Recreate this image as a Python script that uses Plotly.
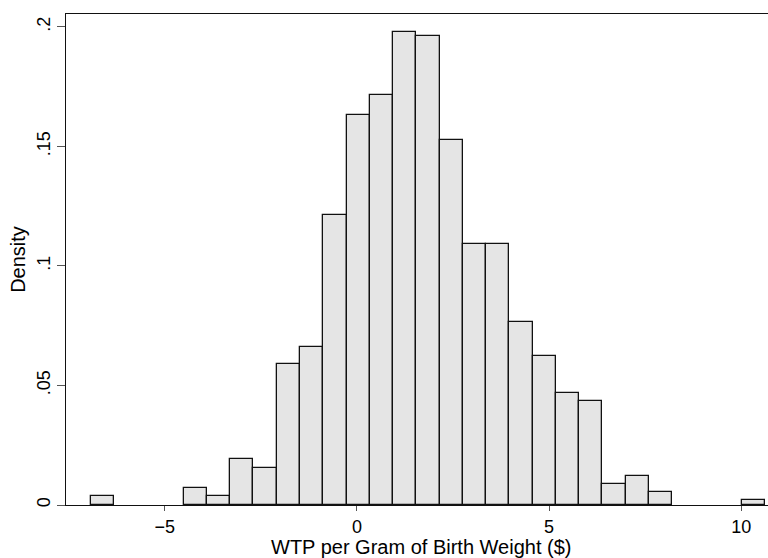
import plotly.graph_objects as go

# Histogram of WTP per gram of birth weight (density scale)
bin_start = -6.925
bin_width = 0.605
density = [0.0036, 0.0, 0.0, 0.0, 0.0071, 0.0036, 0.0192, 0.0156, 0.059, 0.066,
           0.1213, 0.163, 0.1717, 0.1978, 0.1961, 0.1526, 0.1092, 0.1092, 0.0764,
           0.0623, 0.0469, 0.0434, 0.0088, 0.0121, 0.0054, 0.0, 0.0, 0.0, 0.002]

x_ticks = [-5, 0, 5, 10]
x_tick_labels = ["\u22125", "0", "5", "10"]
y_ticks = [0, 0.05, 0.1, 0.15, 0.2]
y_tick_labels = ["0", ".05", ".1", ".15", ".2"]

centers = [bin_start + bin_width * (i + 0.5) for i in range(len(density))]
xs = [c for c, d in zip(centers, density) if d > 0]
ys = [d for d in density if d > 0]

fig = go.Figure(go.Bar(
    x=xs, y=ys, width=bin_width,
    marker=dict(color="#e5e5e5", line=dict(color="#111111", width=1.3)),
))

family = "Liberation Sans, Arial, Helvetica, sans-serif"
font = dict(family=family, size=20, color="black")
tfont = dict(family=family, size=18, color="black")

fig.update_layout(
    width=768, height=558,
    margin=dict(l=66, r=0, t=14, b=53),
    paper_bgcolor="white", plot_bgcolor="white",
    showlegend=False, bargap=0,
    font=font,
    xaxis=dict(
        range=[-7.567, 10.694], tickvals=x_ticks, ticktext=x_tick_labels,
        showgrid=False, zeroline=False, showline=True, linecolor="#111111", linewidth=1.3,
        mirror=True, ticks="outside", ticklen=5, tickcolor="#555555", tickwidth=1.2,
        tickfont=tfont,
    ),
    yaxis=dict(
        range=[0, 0.2054], tickvals=y_ticks, ticktext=y_tick_labels, tickangle=-90,
        showgrid=False, zeroline=False, showline=True, linecolor="#111111", linewidth=1.3,
        ticks="outside", ticklen=8, tickcolor="#555555", tickwidth=1.2,
        title=dict(text="Density", standoff=2, font=font),
        tickfont=tfont,
    ),
    annotations=[dict(
        text="WTP per Gram of Birth Weight ($)", xref="paper", yref="paper",
        x=0.505, y=0, xanchor="center", yanchor="bottom", yshift=-54,
        showarrow=False, font=font, borderpad=0,
    )],
)

fig.write_html("out.html")
